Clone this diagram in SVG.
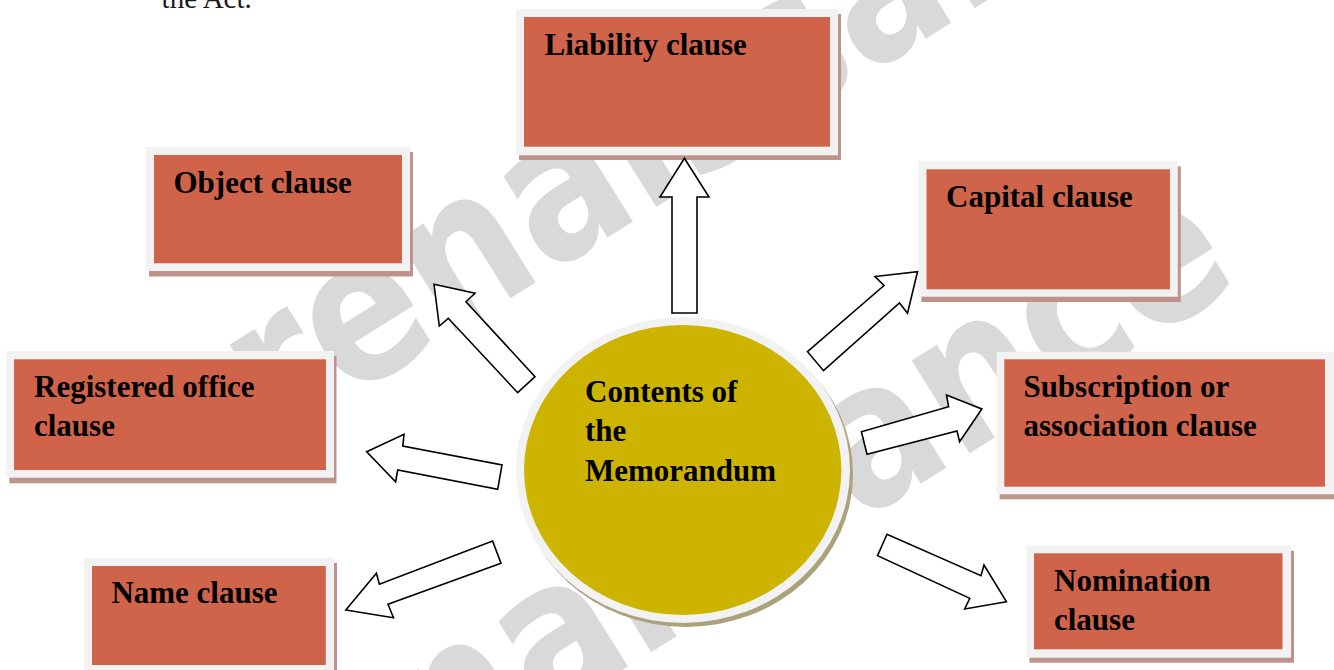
<svg xmlns="http://www.w3.org/2000/svg" width="1334" height="670" viewBox="0 0 1334 670">
  <defs>
    <style>
      .frame { fill: #f2f2f2; }
      .shade { fill: #bd938c; }
      .fill { fill: #d0644b; }
      .label { font-family: "Liberation Serif", "Times New Roman", serif; font-weight: bold; font-size: 31px; fill: #000; }
      .body { font-family: "Liberation Serif", "Times New Roman", serif; font-size: 29px; fill: #1a1a1a; }
      .mark { font-family: "DejaVu Sans", Verdana, sans-serif; font-weight: bold; font-size: 200px; fill: #d9d9d9; }
      .arrow { fill: #fff; stroke: #000; stroke-width: 1.6; stroke-linejoin: miter; }
    </style>
  </defs>

  <rect width="1334" height="670" fill="#fff"/>

  <!-- tail of the preceding paragraph -->
  <text class="body" x="161.6" y="8.3">the Act.</text>

  <!-- background watermark -->
  <g id="watermark">
    <text class="mark" transform="translate(275.5,445) rotate(-32) scale(0.85,1)">renaissance</text>
    <text class="mark" transform="translate(270.5,890) rotate(-32) scale(0.85,1)">renaissance</text>
  </g>

  <!-- centre -->
  <g id="memorandum">
    <ellipse cx="686" cy="474" rx="167" ry="153" fill="#aaa27a"/>
    <ellipse cx="683" cy="470" rx="167" ry="153" fill="#f2f2f2"/>
    <ellipse cx="682.7" cy="470" rx="158.7" ry="145" fill="#ccb400"/>
    <text class="label" x="585" y="401.7">Contents of</text>
    <text class="label" x="585" y="441">the</text>
    <text class="label" x="585" y="480.7">Memorandum</text>
  </g>

  <g id="liability">
    <rect class="shade" x="519" y="14" width="322" height="146"/>
    <rect class="frame" x="516" y="9" width="322" height="146.3"/>
    <rect class="fill" x="524" y="17" width="306" height="129.7"/>
    <text class="label" x="544.5" y="55">Liability clause</text>
  </g>

  <g id="object">
    <rect class="shade" x="149" y="152" width="264" height="124.5"/>
    <rect class="frame" x="146" y="147" width="264" height="124"/>
    <rect class="fill" x="154" y="155" width="248" height="108.3"/>
    <text class="label" x="173.5" y="193">Object clause</text>
  </g>

  <g id="capital">
    <rect class="shade" x="921.4" y="166.3" width="259.4" height="135.7"/>
    <rect class="frame" x="918.4" y="161.3" width="259.4" height="135.4"/>
    <rect class="fill" x="926.5" y="169.3" width="243.5" height="120"/>
    <text class="label" x="946" y="206.7">Capital clause</text>
  </g>

  <g id="registered-office">
    <rect class="shade" x="9.4" y="356" width="327.1" height="127.3"/>
    <rect class="frame" x="6.4" y="351" width="327.6" height="126.7"/>
    <rect class="fill" x="14" y="359.3" width="312" height="110.7"/>
    <text class="label" x="34" y="396.7">Registered office</text>
    <text class="label" x="34" y="435.7">clause</text>
  </g>

  <g id="name">
    <rect class="shade" x="87" y="563" width="250" height="115"/>
    <rect class="frame" x="84" y="558" width="250" height="115"/>
    <rect class="fill" x="92" y="566" width="233.8" height="99"/>
    <text class="label" x="111.4" y="603.3">Name clause</text>
  </g>

  <g id="subscription">
    <rect class="shade" x="999.6" y="356.7" width="340" height="142.6"/>
    <rect class="frame" x="996.6" y="351.7" width="340" height="142.6"/>
    <rect class="fill" x="1004.3" y="359.3" width="320.7" height="127.4"/>
    <text class="label" x="1023.4" y="397.3">Subscription or</text>
    <text class="label" x="1023.4" y="436">association clause</text>
  </g>

  <g id="nomination">
    <rect class="shade" x="1029.4" y="550.7" width="264.6" height="112"/>
    <rect class="frame" x="1026.4" y="545.7" width="264.6" height="112"/>
    <rect class="fill" x="1034" y="553.3" width="248.5" height="96"/>
    <text class="label" x="1054" y="590.7">Nomination</text>
    <text class="label" x="1054" y="630">clause</text>
  </g>

  <!-- block arrows from the centre to each clause -->
  <g id="connectors">
    <polygon class="arrow" points="684.4,158.3 709,197 697,197 697,313 672,313 672,197 660,197"/>
    <polygon class="arrow" points="434,284.3 475,293.3 466,301.7 535,376.7 517.7,392.7 448.3,318.3 439.3,326"/>
    <polygon class="arrow" points="917.5,271.7 907.5,313.3 899.5,303 823.5,370.7 807.5,351.7 884,285.5 875,276.5"/>
    <polygon class="arrow" points="366.7,451.7 404,434.3 402.8,446 502,465 497.7,489.3 397.7,470 395.6,481.7"/>
    <polygon class="arrow" points="981.8,409 959.6,441.7 957,431 867,454.3 861.4,431.7 948.6,406.7 946.5,395"/>
    <polygon class="arrow" points="345.8,610 376.4,573.3 379.4,584.3 492.6,541 501,563.3 388,604.3 393.5,617.7"/>
    <polygon class="arrow" points="1006.4,601.7 964.7,609 969.8,598.3 877.5,555.7 887,534.3 981,575.7 984,565"/>
  </g>
</svg>
